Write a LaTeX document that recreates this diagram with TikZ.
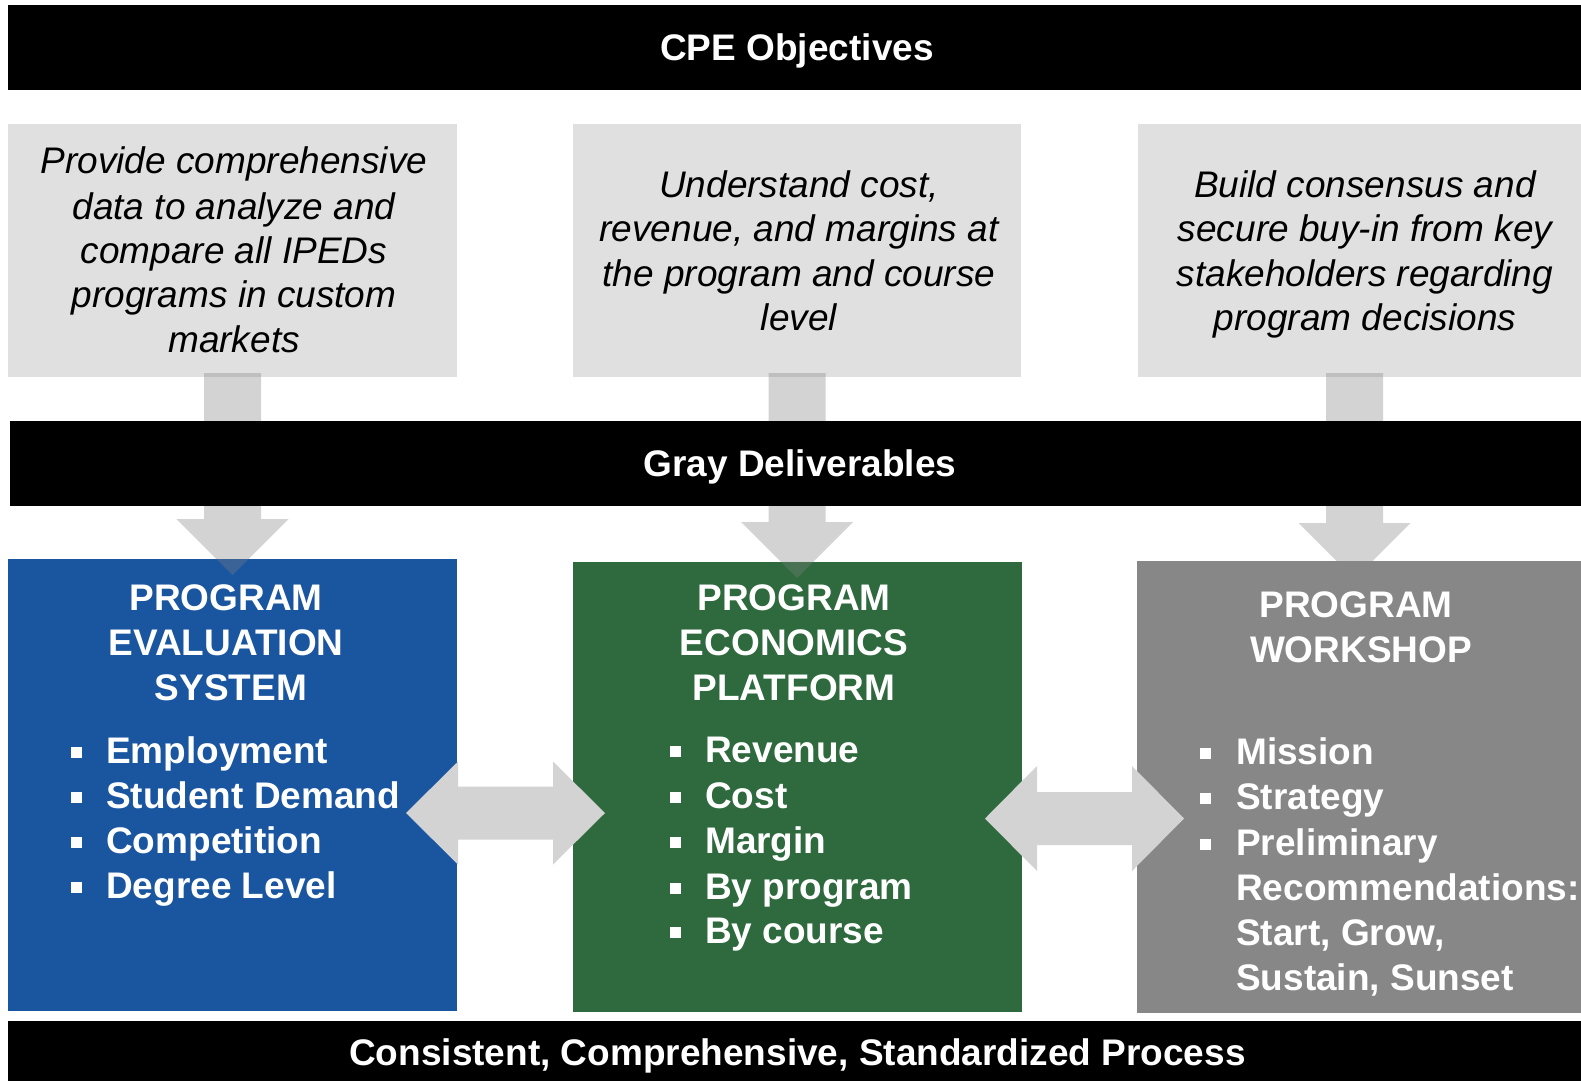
\documentclass[tikz,border=0pt]{standalone}
\usepackage{fontspec}
\setmainfont{Liberation Sans}
\definecolor{lgbox}{HTML}{E0E0E0}
\definecolor{arr}{HTML}{D3D3D3}
\definecolor{pblue}{HTML}{1A55A0}
\definecolor{pgreen}{HTML}{2E6A3E}
\definecolor{pgray}{HTML}{878787}
\newcommand\downarr[4]{%
  \coordinate (#1s) at (#2,373);
  \coordinate (#1t) at (#2,#4);
  \fill[darr] ({#2-28.5},373) -- ({#2+28.5},373) -- ({#2+28.5},#3) -- ({#2+56},#3)
     -- (#1t) -- ({#2-56},#3) -- ({#2-28.5},#3) -- cycle;}
\newcommand\dblarr[9]{%
  \coordinate (#1l) at (#2,#6);
  \coordinate (#1r) at (#5,#6);
  \fill[harr] (#1l) -- (#3,{#6-#7}) -- (#3,{#6-#8}) -- (#4,{#6-#8}) -- (#4,{#6-#7})
     -- (#1r) -- (#4,{#6+#7}) -- (#4,{#6+#8}) -- (#3,{#6+#8}) -- (#3,{#6+#7}) -- cycle;}
\begin{document}
\begin{tikzpicture}[x=1pt,y=-1pt,
  box/.style={anchor=north west, inner sep=0pt, outer sep=0pt, draw=none},
  bar/.style={box, fill=black},
  darr/.style={fill=black!50, fill opacity=0.34},
  harr/.style={fill=arr},
  title/.style={anchor=base, inner sep=0pt, text=white, font=\bfseries\fontsize{37}{44}\selectfont},
  obj/.style={anchor=base, inner sep=0pt, text=black, font=\itshape\fontsize{37}{44}\selectfont},
  head/.style={anchor=base, inner sep=0pt, text=white, font=\bfseries\fontsize{37}{44}\selectfont},
  item/.style={anchor=base west, inner sep=0pt, text=white, font=\bfseries\fontsize{37}{44}\selectfont},
  bul/.style={fill=white, minimum size=11pt, inner sep=0pt}
]
\useasboundingbox (0,0) rectangle (1581,1081);
\fill[white] (0,0) rectangle (1581,1081);

% objective boxes
\node[box, fill=lgbox, minimum width=449pt, minimum height=253pt] (objA) at (8,124) {};
\node[box, fill=lgbox, minimum width=448pt, minimum height=253pt] (objB) at (573,124) {};
\node[box, fill=lgbox, minimum width=443pt, minimum height=253pt] (objC) at (1138,124) {};

% deliverable boxes (blue, green)
\node[box, fill=pblue, minimum width=449pt, minimum height=452pt] (pes) at (8,559) {};
\node[box, fill=pgreen, minimum width=449pt, minimum height=450pt] (pep) at (573,562) {};

% down arrows
\downarr{dA}{232.5}{519}{575}
\downarr{dB}{797}{522}{578}
\downarr{dC}{1354.5}{523}{579}

% workshop box
\node[box, fill=pgray, minimum width=444pt, minimum height=452pt] (pws) at (1137,561) {};

% black bars
\node[bar, minimum width=1573pt, minimum height=85pt] (cpe) at (8,5) {};
\node[bar, minimum width=1571pt, minimum height=85pt] (gd) at (10,421) {};
\node[bar, minimum width=1573pt, minimum height=60pt] (ccs) at (8,1021) {};

% double arrows
\dblarr{hA}{406}{458}{553}{605}{813}{51.5}{26.5}{}
\dblarr{hB}{985}{1037}{1132}{1184}{818.5}{52.5}{26.5}{}

% titles
\node[title] (tcpe) at (797,60.5) {CPE Objectives};
\node[title] (tgd) at (800,476) {Gray Deliverables};
\node[title] (tccs) at (797.5,1065) {Consistent, Comprehensive, Standardized Process};

% objective texts
\node[obj] (a1) at (234,173) {Provide comprehensive};
\node[obj] (a2) at (234,219) {data to analyze and};
\node[obj] (a3) at (234,263) {compare all IPEDs};
\node[obj] (a4) at (234,307) {programs in custom};
\node[obj] (a5) at (234,352) {markets};

\node[obj] (b1) at (799,197) {Understand cost,};
\node[obj] (b2) at (799,241) {revenue, and margins at};
\node[obj] (b3) at (799,286) {the program and course};
\node[obj] (b4) at (799,330) {level};

\node[obj] (c1) at (1365,197) {Build consensus and};
\node[obj] (c2) at (1365,241) {secure buy-in from key};
\node[obj] (c3) at (1365,286) {stakeholders regarding};
\node[obj] (c4) at (1365,330) {program decisions};

% blue box
\node[head] (pesh1) at (226,610) {PROGRAM};
\node[head] (pesh2) at (226,655) {EVALUATION};
\node[head] (pesh3) at (231,700) {SYSTEM};
\foreach \yy/\tx [count=\i] in {763/Employment,808/Student Demand,853/Competition,898/Degree Level}{
  \node[bul] (pesb\i) at (76.5,{\yy-10.5}) {};
  \node[item] (pesi\i) at (106,\yy) {\tx};
}

% green box
\node[head] (peph1) at (794,610) {PROGRAM};
\node[head] (peph2) at (794,655) {ECONOMICS};
\node[head] (peph3) at (794,700) {PLATFORM};
\foreach \yy/\tx [count=\i] in {762/Revenue,808/Cost,853/Margin,899/By program,943/By course}{
  \node[bul] (pepb\i) at (675,{\yy-10.5}) {};
  \node[item] (pepi\i) at (705,\yy) {\tx};
}

% gray box
\node[head] (pwsh1) at (1356,617) {PROGRAM};
\node[head] (pwsh2) at (1361,662) {WORKSHOP};
\foreach \yy/\tx [count=\i] in {764/Mission,809/Strategy,855/Preliminary}{
  \node[bul] (pwsb\i) at (1205,{\yy-10.5}) {};
  \node[item] (pwsi\i) at (1236,\yy) {\tx};
}
\node[item] (pwsi4) at (1236,900) {Recommendations:};
\node[item] (pwsi5) at (1236,945) {Start, Grow,};
\node[item] (pwsi6) at (1236,990) {Sustain, Sunset};
\end{tikzpicture}
\end{document}
